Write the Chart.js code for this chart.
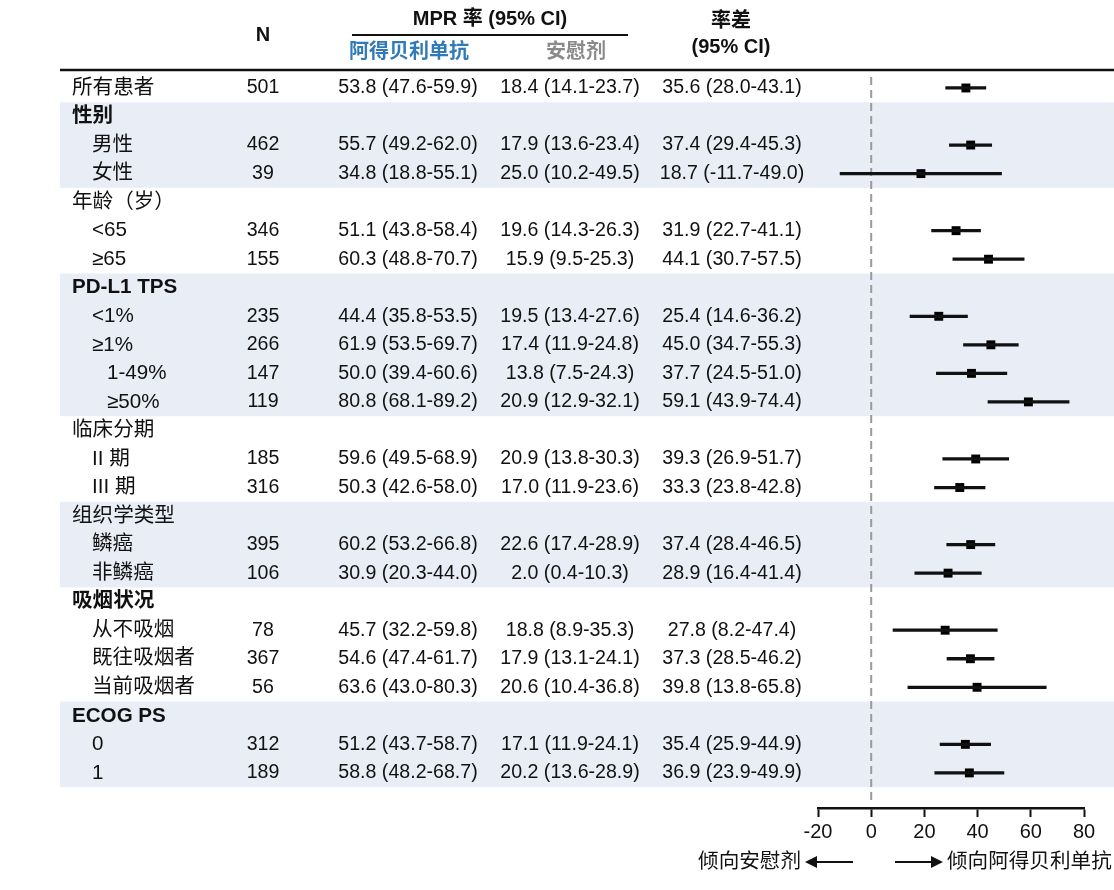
<!DOCTYPE html>
<html>
<head>
<meta charset="utf-8">
<script src="https://cdn.jsdelivr.net/npm/chart.js@4/dist/chart.umd.min.js"></script>
<style>
  html, body { margin: 0; padding: 0; background: #fff; }
  #wrap { width: 1114px; height: 890px; }
</style>
</head>
<body>
<div id="wrap"><canvas id="c" width="1114" height="890"></canvas></div>
<script>
// ---------------- DATA ----------------
const rowLabels = ['所有患者','性别','男性','女性','年龄（岁）','<65','≥65','PD-L1 TPS','<1%','≥1%','1-49%','≥50%','临床分期','II 期','III 期','组织学类型','鳞癌','非鳞癌','吸烟状况','从不吸烟','既往吸烟者','当前吸烟者','ECOG PS','0','1'];
const rowIndent = [0,0,1,1,0,1,1,0,1,1,2,2,0,1,1,0,1,1,0,1,1,1,0,1,1];
const rowBold   = [0,1,0,0,0,0,0,1,0,0,0,0,0,0,0,0,0,0,1,0,0,0,1,0,0];
const bandGroups = [[1,3],[7,11],[15,17],[22,24]];
const nValues = ['501','','462','39','','346','155','','235','266','147','119','','185','316','','395','106','','78','367','56','','312','189'];

const adebRate = [53.8,null,55.7,34.8,null,51.1,60.3,null,44.4,61.9,50.0,80.8,null,59.6,50.3,null,60.2,30.9,null,45.7,54.6,63.6,null,51.2,58.8];
const adebLo   = [47.6,null,49.2,18.8,null,43.8,48.8,null,35.8,53.5,39.4,68.1,null,49.5,42.6,null,53.2,20.3,null,32.2,47.4,43.0,null,43.7,48.2];
const adebHi   = [59.9,null,62.0,55.1,null,58.4,70.7,null,53.5,69.7,60.6,89.2,null,68.9,58.0,null,66.8,44.0,null,59.8,61.7,80.3,null,58.7,68.7];

const placRate = [18.4,null,17.9,25.0,null,19.6,15.9,null,19.5,17.4,13.8,20.9,null,20.9,17.0,null,22.6,2.0,null,18.8,17.9,20.6,null,17.1,20.2];
const placLo   = [14.1,null,13.6,10.2,null,14.3,9.5,null,13.4,11.9,7.5,12.9,null,13.8,11.9,null,17.4,0.4,null,8.9,13.1,10.4,null,11.9,13.6];
const placHi   = [23.7,null,23.4,49.5,null,26.3,25.3,null,27.6,24.8,24.3,32.1,null,30.3,23.6,null,28.9,10.3,null,35.3,24.1,36.8,null,24.1,28.9];

const diffVal  = [35.6,null,37.4,18.7,null,31.9,44.1,null,25.4,45.0,37.7,59.1,null,39.3,33.3,null,37.4,28.9,null,27.8,37.3,39.8,null,35.4,36.9];
const diffLo   = [28.0,null,29.4,-11.7,null,22.7,30.7,null,14.6,34.7,24.5,43.9,null,26.9,23.8,null,28.4,16.4,null,8.2,28.5,13.8,null,25.9,23.9];
const diffHi   = [43.1,null,45.3,49.0,null,41.1,57.5,null,36.2,55.3,51.0,74.4,null,51.7,42.8,null,46.5,41.4,null,47.4,46.2,65.8,null,44.9,49.9];

const xTicks = [-20, 0, 20, 40, 60, 80];
const headerTexts = { n: 'N', mpr: 'MPR 率 (95% CI)', armA: '阿得贝利单抗', armB: '安慰剂', diff1: '率差', diff2: '(95% CI)' };
const favourLeft = '倾向安慰剂';
const favourRight = '倾向阿得贝利单抗';

// ---------------- STYLE ----------------
const FONT = "'Liberation Sans', 'Noto Sans CJK SC', sans-serif";
const TEXT = '#111111';
const BAND = '#e9eef6';
const BLUE = '#2f7ab8';
const GRAY = '#8a8a8a';

function fmt(v, lo, hi) {
  return v.toFixed(1) + ' (' + lo.toFixed(1) + '-' + hi.toFixed(1) + ')';
}

const ciData = [];
const ptData = [];
diffVal.forEach((v, i) => {
  if (v === null) return;
  ciData.push({ y: i, x: [diffLo[i], diffHi[i]] });
  ptData.push({ x: v, y: i });
});

const tablePlugin = {
  id: 'forestTable',
  beforeDraw(chart) {
    const { ctx } = chart;
    const y = chart.scales.y;
    ctx.save();
    ctx.fillStyle = '#fff';
    ctx.fillRect(0, 0, chart.width, chart.height);
    ctx.fillStyle = BAND;
    bandGroups.forEach(([a, b]) => {
      const top = y.getPixelForValue(a - 0.5);
      const bot = y.getPixelForValue(b + 0.5);
      ctx.fillRect(60, top, chart.width - 60, bot - top);
    });
    ctx.restore();
  },
  beforeDatasetsDraw(chart) {
    const { ctx, chartArea } = chart;
    const x0 = chart.scales.x.getPixelForValue(0);
    ctx.save();
    ctx.strokeStyle = '#9a9a9a';
    ctx.lineWidth = 2;
    ctx.setLineDash([8, 5]);
    ctx.beginPath();
    ctx.moveTo(x0, chartArea.top + 5);
    ctx.lineTo(x0, chartArea.bottom - 6);
    ctx.stroke();
    ctx.restore();
  },
  afterDraw(chart) {
    const { ctx } = chart;
    const y = chart.scales.y;
    ctx.save();
    ctx.textBaseline = 'middle';
    ctx.fillStyle = TEXT;

    // header
    ctx.textAlign = 'center';
    ctx.font = 'bold 20px ' + FONT;
    ctx.fillText(headerTexts.n, 263, 35);
    ctx.fillText(headerTexts.mpr, 490, 19);
    ctx.fillText(headerTexts.diff1, 731, 21);
    ctx.fillText(headerTexts.diff2, 731, 47);
    ctx.fillStyle = BLUE;
    ctx.fillText(headerTexts.armA, 409, 52);
    ctx.fillStyle = GRAY;
    ctx.fillText(headerTexts.armB, 576, 52);

    ctx.strokeStyle = TEXT;
    ctx.lineWidth = 2;
    ctx.beginPath();
    ctx.moveTo(352, 35); ctx.lineTo(628, 35);
    ctx.stroke();
    ctx.lineWidth = 2.5;
    ctx.beginPath();
    ctx.moveTo(60, 70); ctx.lineTo(chart.width, 70);
    ctx.stroke();

    // rows
    ctx.fillStyle = TEXT;
    rowLabels.forEach((lab, i) => {
      const py = y.getPixelForValue(i);
      ctx.textAlign = 'left';
      ctx.font = (rowBold[i] ? 'bold ' : '') + '20.6px ' + FONT;
      const lx = rowIndent[i] === 0 ? 72 : (rowIndent[i] === 1 ? 92 : 107);
      ctx.fillText(lab, lx, py);
      ctx.textAlign = 'center';
      ctx.font = '19.6px ' + FONT;
      if (nValues[i]) ctx.fillText(nValues[i], 263, py);
      if (adebRate[i] !== null) ctx.fillText(fmt(adebRate[i], adebLo[i], adebHi[i]), 408, py);
      if (placRate[i] !== null) ctx.fillText(fmt(placRate[i], placLo[i], placHi[i]), 570, py);
      if (diffVal[i] !== null) ctx.fillText(fmt(diffVal[i], diffLo[i], diffHi[i]), 732, py);
    });

    // favour arrows
    const ay = 862;
    ctx.font = '20.6px ' + FONT;
    ctx.textAlign = 'right';
    ctx.fillText(favourLeft, 801, ay);
    ctx.textAlign = 'left';
    ctx.fillText(favourRight, 947, ay);
    ctx.lineWidth = 2;
    ctx.beginPath();
    ctx.moveTo(853, ay); ctx.lineTo(814, ay);
    ctx.moveTo(895, ay); ctx.lineTo(932, ay);
    ctx.stroke();
    ctx.beginPath();
    ctx.moveTo(805, ay); ctx.lineTo(817, ay - 6); ctx.lineTo(817, ay + 6); ctx.closePath();
    ctx.moveTo(943, ay); ctx.lineTo(931, ay - 6); ctx.lineTo(931, ay + 6); ctx.closePath();
    ctx.fill();
    ctx.restore();
  }
};

Chart.defaults.font.family = FONT;
Chart.defaults.color = TEXT;

new Chart(document.getElementById('c'), {
  type: 'scatter',
  data: {
    datasets: [
      {
        type: 'bar',
        indexAxis: 'y',
        data: ciData,
        backgroundColor: '#111',
        borderWidth: 0,
        barThickness: 2.6,
        grouped: false
      },
      {
        type: 'scatter',
        data: ptData,
        pointStyle: 'rect',
        radius: 6.3,
        backgroundColor: '#000',
        borderWidth: 0
      }
    ]
  },
  options: {
    responsive: false,
    animation: false,
    events: [],
    layout: { padding: { left: 818, right: 30, top: 72, bottom: 0 } },
    plugins: { legend: { display: false }, tooltip: { enabled: false } },
    scales: {
      x: {
        type: 'linear',
        min: -20, max: 80,
        offset: false,
        afterBuildTicks: (axis) => { axis.ticks = xTicks.map(v => ({ value: v })); },
        afterFit: (axis) => { axis.height = 82; },
        ticks: { font: { size: 20 }, color: TEXT, padding: 3 },
        grid: { drawOnChartArea: false, drawTicks: true, tickLength: 9, tickWidth: 2, color: TEXT, offset: false },
        border: { display: true, color: TEXT, width: 2.5 }
      },
      y: {
        type: 'linear',
        display: false,
        reverse: true,
        offset: false,
        grid: { offset: false },
        min: -0.56, max: 25.23
      }
    }
  },
  plugins: [tablePlugin]
});
</script>
</body>
</html>
